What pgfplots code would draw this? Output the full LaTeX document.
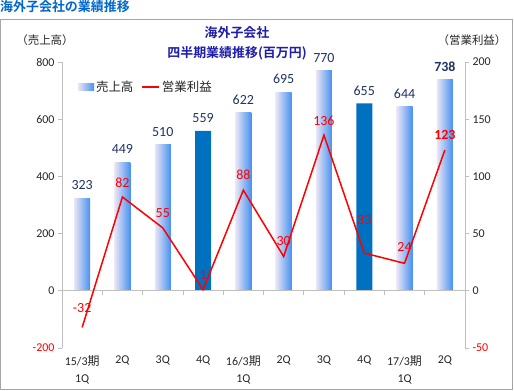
\documentclass[border=0pt]{standalone}
\usepackage{fontspec}
\setmainfont{Carlito}
\newfontfamily\cjk{Noto Sans CJK JP}[BoldFont={Noto Sans CJK JP Bold}]
\usepackage{pgfplots}
\pgfplotsset{compat=1.18}
\definecolor{barL}{RGB}{234,230,246}
\definecolor{barR}{RGB}{70,145,240}
\definecolor{darkbar}{RGB}{0,112,192}
\definecolor{navy}{RGB}{31,50,100}
\definecolor{axgray}{RGB}{191,191,191}
\definecolor{ttlblue}{RGB}{0,102,204}
\definecolor{ttltwo}{RGB}{30,30,170}
\newcommand\ki{{\cjk 期}}
\pgfplotsset{
  gbar/.style={ybar, bar width=16bp, bar shift=0pt, draw=none, left color=barL, right color=barR,
    nodes near coords, nodes near coords style={font=\fontsize{14}{14}\selectfont, text=navy, anchor=center, yshift=13bp}},
}
\begin{document}
\begin{tikzpicture}
\path (0bp,0bp) rectangle (514bp,391bp);
\draw[gray!70, line width=0.8bp] (0.5bp,2bp) rectangle (512bp,372bp);
\node[anchor=west, font=\cjk\bfseries\fontsize{13}{13}\selectfont, text=ttlblue, inner sep=0pt] at (0bp,384bp) {海外子会社の業績推移};
\node[font=\cjk\bfseries\fontsize{13}{13}\selectfont, text=ttltwo, inner sep=0pt] at (237bp,358bp) {海外子会社};
\node[font=\cjk\bfseries\fontsize{13}{13}\selectfont, text=ttltwo, inner sep=0pt] at (237bp,338bp) {四半期業績推移(百万円)};
\node[font=\cjk\fontsize{11.5}{12}\selectfont, text=black!85, inner sep=0pt] at (45bp,351bp) {（売上高）};
\node[font=\cjk\fontsize{11.5}{12}\selectfont, text=black!85, inner sep=0pt] at (472bp,351bp) {（営業利益）};
\begin{axis}[
  at={(62bp,43bp)}, anchor=south west, scale only axis, width=403bp, height=286bp,
  xmin=-0.5, xmax=9.5, ymin=-200, ymax=800,
  axis y line*=left, axis x line*=bottom, x axis line style={draw=none},
  y axis line style={-, draw=axgray, line width=0.8bp},
  ytick={0,200,...,800}, extra y ticks={-200},
  extra y tick style={yticklabel style={text=red}, tick style={draw=axgray}},
  ytick style={draw=axgray, line width=0.8bp}, tick align=outside, major tick length=4bp,
  xtick={0,...,9},
  xticklabels={{15/3\ki\\1Q},2Q,3Q,4Q,{16/3\ki\\1Q},2Q,3Q,4Q,{17/3\ki\\1Q},2Q},
  xtick style={draw=none},
  xticklabel style={align=center, font=\fontsize{12}{17}\selectfont, text=black!85},
  yticklabel style={font=\fontsize{12}{12}\selectfont, text=black!85},
  /pgf/number format/assume math mode=true,
  clip=false,
]
\addplot[gbar] coordinates {(0,323)};
\addplot[gbar] coordinates {(1,449)};
\addplot[gbar] coordinates {(2,510)};
\addplot[gbar] coordinates {(4,622)};
\addplot[gbar] coordinates {(5,695)};
\addplot[gbar] coordinates {(6,770)};
\addplot[gbar] coordinates {(8,644)};
\addplot[ybar, bar width=16bp, bar shift=0pt, draw=none, fill=darkbar,
  nodes near coords, nodes near coords style={font=\fontsize{14}{14}\selectfont, text=navy, anchor=center, yshift=13bp}]
  coordinates {(3,559) (7,655)};
\addplot[gbar, nodes near coords style={font=\bfseries\fontsize{14}{14}\selectfont}]
  coordinates {(9,738)};
\draw[axgray, line width=0.8bp] (axis cs:-0.5,0) -- (axis cs:9.5,0);
\pgfplotsinvokeforeach{0.5,1.5,2.5,3.5,4.5,5.5,6.5,7.5,8.5}{
  \draw[axgray, line width=0.8bp] (axis cs:#1,0) -- ++(0pt,-4bp);
}
\end{axis}
\begin{axis}[
  at={(62bp,43bp)}, anchor=south west, scale only axis, width=403bp, height=286bp,
  xmin=-0.5, xmax=9.5, ymin=-50, ymax=200,
  axis y line*=right, axis x line=none,
  y axis line style={-, draw=axgray, line width=0.8bp},
  ytick={0,50,...,200}, extra y ticks={-50},
  extra y tick style={yticklabel style={text=red}, tick style={draw=axgray}},
  ytick style={draw=axgray, line width=0.8bp}, tick align=outside, major tick length=4bp,
  yticklabel style={font=\fontsize{12}{12}\selectfont, text=black!85},
  /pgf/number format/assume math mode=true,
  clip=false,
  legend columns=2,
  legend style={draw=none, fill=none, at={(0.032,0.9126)}, anchor=west,
    font=\cjk\fontsize{12.5}{13}\selectfont, text=black!85,
    /tikz/every even column/.append style={column sep=6bp}},
]
\addlegendimage{legend image code/.code={\path[draw=none, left color=barL, right color=barR] (0bp,-3.5bp) rectangle (16bp,3.5bp);}}
\addlegendentry{売上高}
\addplot[red, line width=1.5bp, mark=none] coordinates {
  (0,-32) (1,82) (2,55) (3,1) (4,88) (5,30) (6,136) (7,33) (8,24) (9,123)};
\addlegendentry{営業利益}
\addplot[draw=none, mark=none, forget plot,
  visualization depends on={\thisrow{dy}\as\dy},
  nodes near coords, nodes near coords style={font=\fontsize{14}{14}\selectfont, text=red, anchor=center, yshift=\dy bp}]
  table[x=x, y=y] {
  x y dy
  0 -32 19
  1 82 14
  2 55 15
  3 1 15
  4 88 15
  5 30 15
  6 136 14
  7 33 33
  8 24 16
  };
\addplot[draw=none, mark=none, forget plot,
  nodes near coords, nodes near coords style={font=\bfseries\fontsize{14}{14}\selectfont, text=red, anchor=center, yshift=15bp}]
  coordinates {(9,123)};
\end{axis}
\end{tikzpicture}
\end{document}
